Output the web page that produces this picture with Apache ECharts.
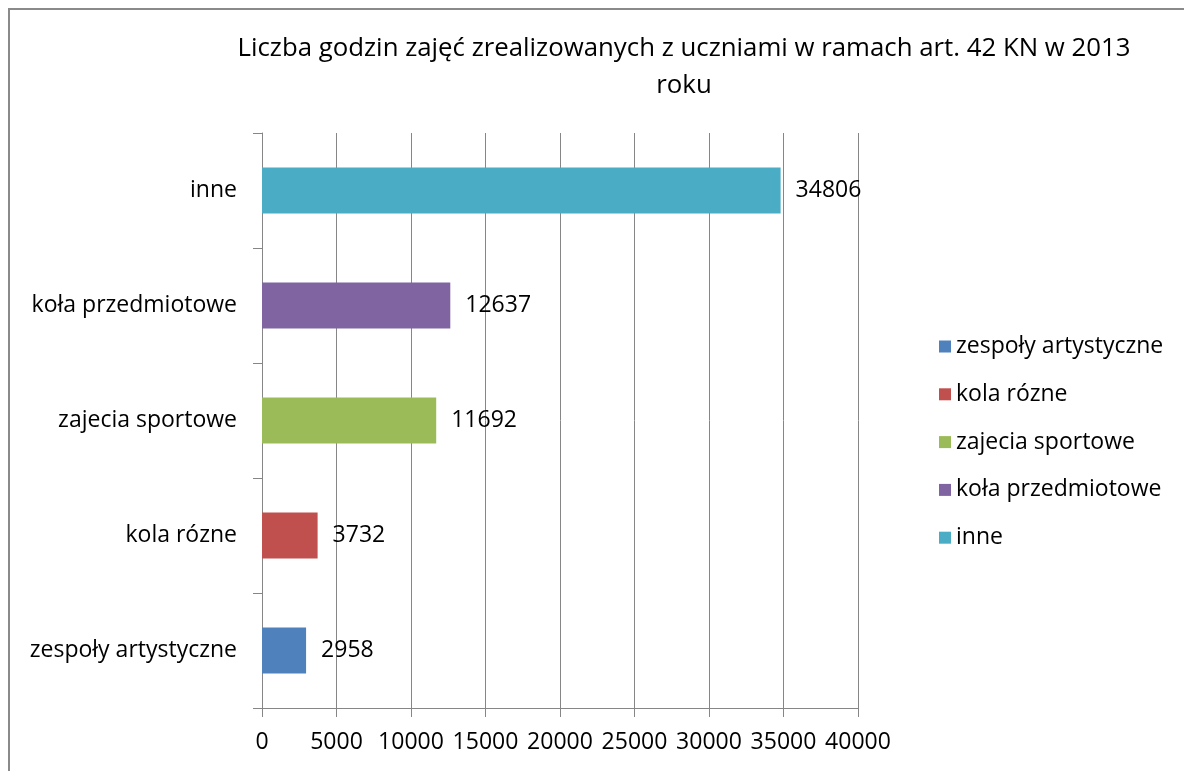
<!DOCTYPE html>
<html>
<head>
<meta charset="utf-8">
<style>
  html, body { margin: 0; padding: 0; background: #fff; }
  #chart { width: 1184px; height: 771px; }
</style>
<script src="https://cdn.jsdelivr.net/npm/echarts@6/dist/echarts.min.js"></script>
</head>
<body>
<div id="chart"></div>
<script>
// kategorie od dołu do góry
const categories = ["zespoły artystyczne", "kola rózne", "zajecia sportowe", "koła przedmiotowe", "inne"];
const values = [2958, 3732, 11692, 12637, 34806];
const colors = ["#4F81BD", "#C0504D", "#9BBB59", "#8064A2", "#4BACC6"];
const xTicks = [0, 5000, 10000, 15000, 20000, 25000, 30000, 35000, 40000];

const FONT = "Open Sans";
const FS = 23;
const chart = echarts.init(document.getElementById("chart"));

// jedna seria na kategorię, żeby legenda miała 5 pozycji
const series = categories.map((name, i) => ({
  name: name,
  type: "bar",
  stack: "all",
  barWidth: "40%",
  itemStyle: { color: colors[i] },
  label: {
    show: true,
    position: "right",
    distance: 15,
    color: "#000",
    fontFamily: FONT,
    fontSize: FS,
  },
  data: categories.map((c, j) => (j === i ? values[i] : null)),
}));

chart.setOption({
  animation: false,
  backgroundColor: "#fff",
  graphic: [
    {
      type: "rect",
      shape: { x: 9, y: 9, width: 1300, height: 900 },
      style: { fill: "none", stroke: "#8a8a8a", lineWidth: 2 },
      z: 100,
    },
  ],
  title: {
    text: "Liczba godzin zajęć zrealizowanych z uczniami w ramach art. 42 KN w 2013\nroku",
    left: 679,
    top: 25,
    textAlign: "center",
    textStyle: {
      fontFamily: FONT,
      fontSize: 25.8,
      fontWeight: "normal",
      color: "#000",
      lineHeight: 37,
    },
  },
  legend: {
    orient: "vertical",
    left: 934,
    top: 330,
    itemWidth: 12,
    itemHeight: 12,
    itemGap: 24.8,
    itemStyle: { borderWidth: 0 },
    icon: "rect",
    data: categories,
    textStyle: { fontFamily: FONT, fontSize: FS, color: "#000", lineHeight: 23 },
  },
  grid: { left: 262, right: 326, top: 133, bottom: 63, containLabel: false },
  xAxis: {
    type: "value",
    min: 0,
    max: 40000,
    interval: 5000,
    axisLine: { show: true, lineStyle: { color: "#868686", width: 1 } },
    axisTick: { show: true, length: 9, lineStyle: { color: "#868686" } },
    splitLine: { show: true, lineStyle: { color: "#868686", width: 1 } },
    axisLabel: {
      margin: 23,
      color: "#000",
      fontFamily: FONT,
      fontSize: FS,
      formatter: (v) => (xTicks.includes(v) ? String(v) : ""),
    },
  },
  yAxis: {
    type: "category",
    data: categories,
    axisLine: { show: true, lineStyle: { color: "#868686", width: 1 } },
    axisTick: { show: true, length: 9, lineStyle: { color: "#868686" } },
    axisLabel: {
      margin: 25,
      color: "#000",
      fontFamily: FONT,
      fontSize: FS,
    },
  },
  series: series,
});
</script>
</body>
</html>
